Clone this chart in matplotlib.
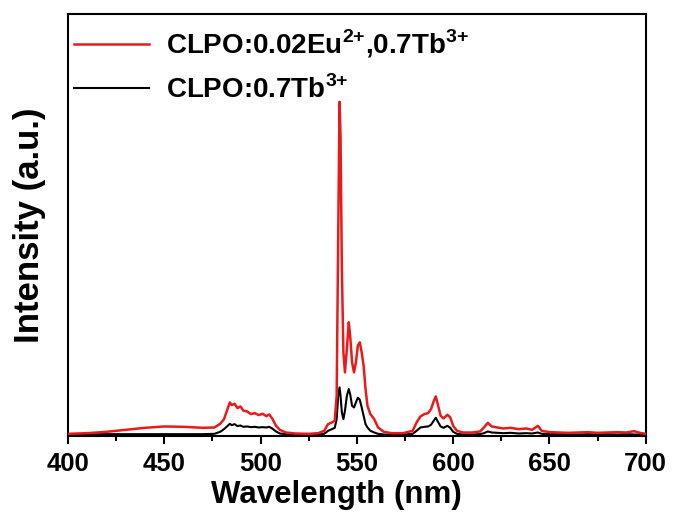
import matplotlib
matplotlib.use("Agg")
import matplotlib.pyplot as plt
from matplotlib.ticker import MultipleLocator

# emission spectra (arbitrary units, main peak = 100)
wavelength = [
    400, 410, 420, 430, 440, 450, 460, 470, 476, 479,
    481, 482.5, 484, 485, 486.5, 488, 489.5, 491, 493, 495,
    497, 499, 501, 503, 504.5, 506, 508, 510, 513, 518,
    525, 530, 533, 535, 537, 538.5, 539.5, 540.3, 541, 541.5,
    542.2, 543, 543.8, 544.8, 545.8, 546.5, 547.5, 548.5, 549.5, 550.5,
    551.5, 552.5, 553.5, 554.5, 555.5, 557, 559, 561, 564, 568,
    574, 579, 581, 583, 585, 587, 588.5, 590, 591, 592,
    593.5, 595, 597, 598.5, 600, 602, 605, 610, 614, 616,
    618, 620, 623, 626, 630, 634, 638, 641, 644, 646,
    650, 655, 660, 665, 670, 675, 680, 685, 690, 694,
    697, 700,
]

eu_tb = [
    0.6, 0.8, 1.2, 1.8, 2.4, 2.8, 2.7, 2.4, 2.5, 3.6,
    5.0, 7.5, 10.0, 9.2, 9.6, 8.3, 8.8, 7.6, 7.3, 6.5,
    6.8, 6.2, 6.6, 5.9, 6.4, 5.2, 3.0, 1.8, 1.0, 0.7,
    0.6, 0.8, 1.5, 3.5, 4.0, 4.5, 12, 60, 100, 90,
    50, 25, 19, 26, 34, 30, 22, 19, 22, 27,
    28, 25, 21, 14, 9, 6.5, 5, 2.5, 1.2, 0.8,
    0.8, 1.5, 4.0, 5.8, 6.5, 6.8, 8.0, 10.5, 11.8, 9.5,
    6.0, 5.2, 6.3, 5.5, 3.0, 1.5, 1.0, 1.0, 1.3, 2.5,
    3.9, 2.8, 2.5, 2.2, 2.4, 2.0, 2.2, 1.8, 3.0, 1.5,
    1.1, 1.0, 0.9, 1.0, 1.1, 0.9, 1.0, 1.1, 1.0, 1.4,
    0.9, 0.6,
]

tb_only = [
    0.5, 0.5, 0.5, 0.5, 0.5, 0.5, 0.5, 0.5, 0.6, 1.2,
    2.0, 2.8, 3.6, 3.2, 3.5, 2.9, 3.1, 2.7, 2.8, 2.6,
    2.7, 2.5, 2.6, 2.5, 2.7, 2.2, 1.3, 0.7, 0.5, 0.4,
    0.4, 0.4, 0.6, 1.5, 2.0, 2.4, 5.0, 12, 14.5, 12,
    7.0, 5.0, 7.5, 12, 14, 12.5, 9.0, 8.5, 10, 11.4,
    10.8, 8.5, 6.0, 3.5, 2.5, 1.5, 1.0, 0.6, 0.4, 0.4,
    0.4, 0.6, 1.5, 2.5, 2.7, 2.8, 3.3, 4.6, 5.4, 4.3,
    2.8, 2.4, 3.0, 2.4, 1.2, 0.6, 0.4, 0.4, 0.5, 0.8,
    1.3, 1.0, 0.9, 0.8, 0.9, 0.7, 0.8, 0.7, 1.0, 0.6,
    0.5, 0.5, 0.5, 0.4, 0.5, 0.4, 0.5, 0.4, 0.5, 0.4,
    0.4, 0.4,
]

# "{+}" keeps mathtext from spacing the plus like a binary operator
labels = [
    "CLPO:0.02Eu$^{\\mathbf{2{+}}}$,0.7Tb$^{\\mathbf{3{+}}}$",
    "CLPO:0.7Tb$^{\\mathbf{3{+}}}$",
]

plt.rcParams["font.family"] = "Liberation Sans"
plt.rcParams["font.weight"] = "bold"
plt.rcParams["mathtext.fontset"] = "custom"
plt.rcParams["mathtext.rm"] = "Liberation Sans:bold"
plt.rcParams["mathtext.bf"] = "Liberation Sans:bold"

fig = plt.figure(figsize=(6.74, 5.17), dpi=100)
ax = fig.add_axes([0.101, 0.157, 0.857, 0.816])

ax.plot(wavelength, eu_tb, color="#ea1a1a", lw=1.8, label=labels[0], zorder=3)
ax.plot(wavelength, tb_only, color="black", lw=1.5, label=labels[1], zorder=2)

ax.set_xlim(400, 700)
ax.set_ylim(0, 126.3)
ax.set_yticks([])
ax.xaxis.set_major_locator(MultipleLocator(50))
ax.xaxis.set_minor_locator(MultipleLocator(25))
ax.tick_params(axis="x", which="major", direction="out", length=6, width=1.5,
               labelsize=18.5, pad=6)
ax.tick_params(axis="x", which="minor", direction="out", length=3.5, width=1.5)
for sp in ax.spines.values():
    sp.set_linewidth(1.5)

ax.set_xlabel("Wavelength (nm)", fontsize=22.5, fontweight="bold")
ax.xaxis.set_label_coords(0.465, -0.105)
ax.set_ylabel("Intensity (a.u.)", fontsize=25, fontweight="bold", labelpad=16)

ax.legend(loc="upper left", bbox_to_anchor=(0.01, 0.967), frameon=False,
          fontsize=20, handlelength=2.7, handletextpad=0.6,
          borderaxespad=0, borderpad=0, labelspacing=0.55)

fig.savefig("out.png", dpi=100)
